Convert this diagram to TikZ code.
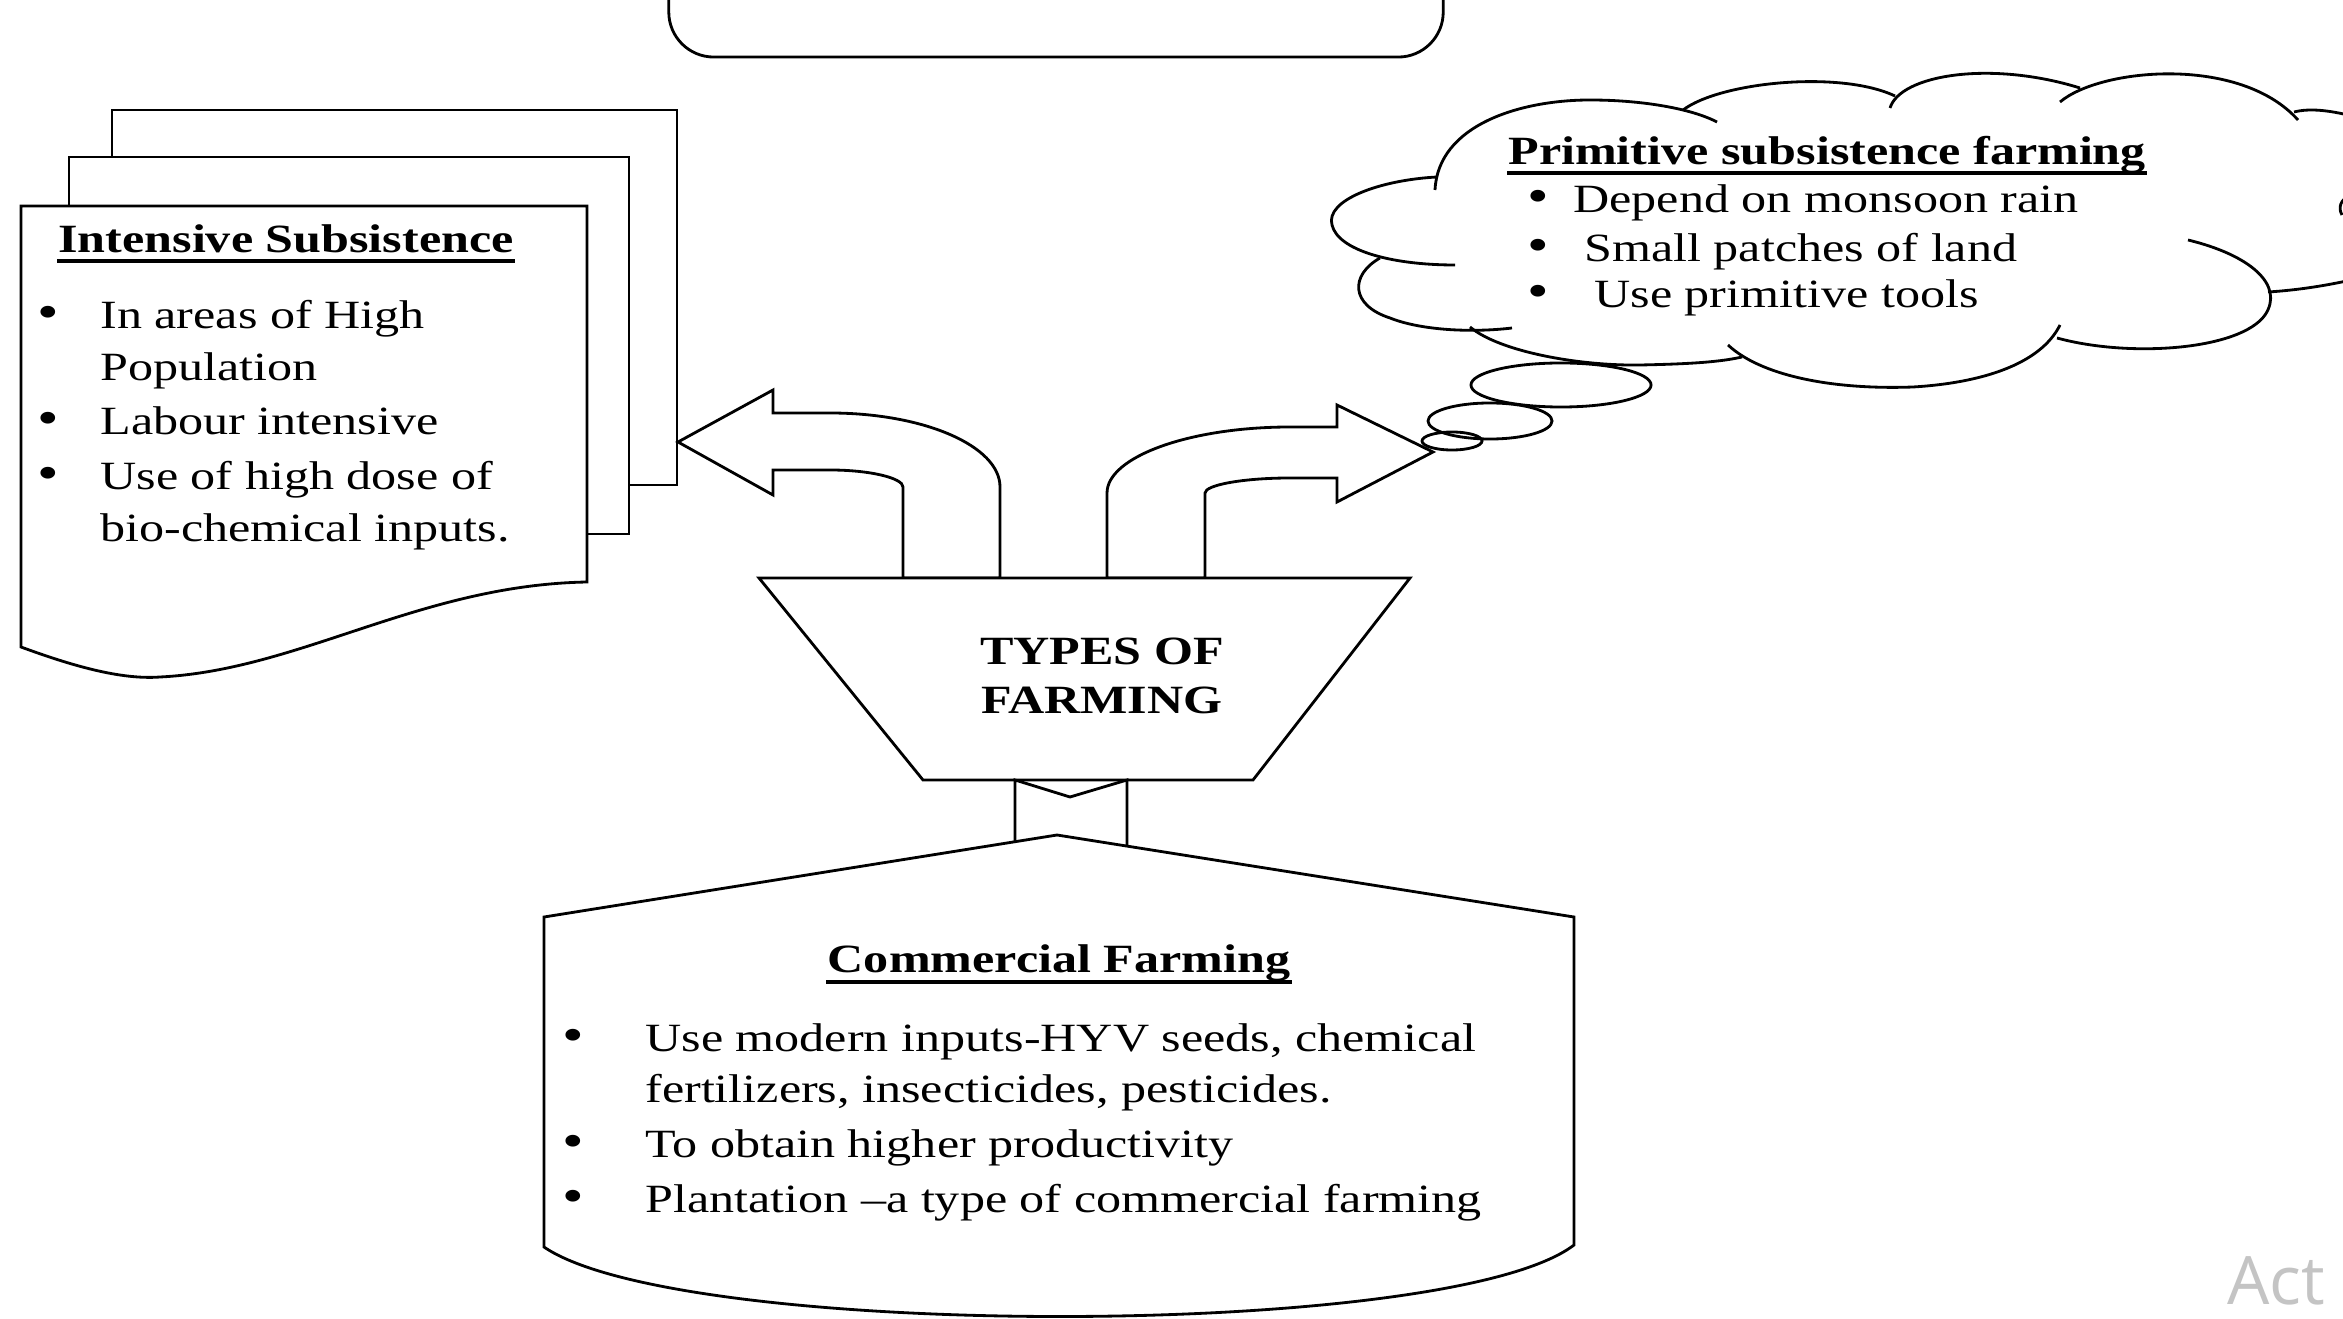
\documentclass[tikz,border=0pt]{standalone}
\usepackage{fontspec}
\setmainfont[FakeStretch=1.25]{Liberation Serif}
\newfontfamily\winfont{Open Sans}
\definecolor{WinGray}{HTML}{C4C4C4}

\begin{document}
\begin{tikzpicture}[x=0.01cm,y=-0.01cm,line width=0.8pt]
  \tikzstyle{bodytext}=[inner sep=0pt,anchor=base west,font=\fontsize{11.4}{13.9}\selectfont]
  \tikzstyle{headtext}=[bodytext,font=\fontsize{11.4}{13.9}\selectfont\bfseries]
  \tikzstyle{bulletmark}=[inner sep=0pt,anchor=base,font=\fontsize{14}{14}\selectfont]
  \tikzstyle{sheet}=[draw,fill=white]
  \tikzstyle{headrule}=[line width=1.3pt]
  \useasboundingbox (0,0) rectangle (2343,1319);
  \fill[white] (0,0) rectangle (2343,1319);
  \clip (0,0) rectangle (2343,1319);

  % box running off the top
  \node[draw,rounded corners=0.45cm,minimum width=7.74cm,minimum height=2cm] (topbox) at (1056,-43) {};

  % stack of sheets
  \draw[sheet] (112,110) rectangle (677,485);
  \draw[sheet] (69,157) rectangle (629,534);
  \draw[sheet] (21,206) -- (587,206) -- (587,582)
    .. controls (420,585) and (300,670) .. (160,677)
    .. controls (120,680) and (70,665) .. (21,647) -- cycle;
  \node[headtext] (inhead) at (57,253) {Intensive Subsistence};
  \draw[headrule] ([yshift=-2.3pt]inhead.base west) -- ([yshift=-2.3pt]inhead.base east);
  \node[bulletmark] (indot1) at (48,329) {\textbullet};
  \node[bodytext] (in1) at (99,329) {In areas of High};
  \node[bodytext] (in2) at (99,381) {Population};
  \node[bulletmark] (indot3) at (48,435) {\textbullet};
  \node[bodytext] (in3) at (99,435) {Labour intensive};
  \node[bulletmark] (indot4) at (48,490) {\textbullet};
  \node[bodytext] (in4) at (99,490) {Use of high dose of};
  \node[bodytext] (in5) at (99,542) {bio-chemical inputs.};

  % u-turn arrows
  \draw[fill=white] (678,442) -- (773,390) -- (773,413) -- (830,413)
    .. controls (924,413) and (1000,446) .. (1000,487) -- (1000,578)
    -- (903,578) -- (903,487) .. controls (903,478) and (870,470) .. (830,470)
    -- (773,470) -- (773,495) -- cycle;
  \draw[fill=white] (1433,452) -- (1337,405) -- (1337,427) -- (1290,427)
    .. controls (1189,427) and (1107,457) .. (1107,493) -- (1107,578)
    -- (1205,578) -- (1205,493) .. controls (1205,485) and (1243,478) .. (1290,478)
    -- (1337,478) -- (1337,502) -- cycle;

  % funnel
  \draw[fill=white] (759,578) -- (1410,578) -- (1253,780) -- (923,780) -- cycle;
  \node[headtext,anchor=center,align=center] (types) at (1102,676) {TYPES OF\\FARMING};

  % notched shaft into the lower box
  \draw (1015,870) -- (1015,780) -- (1070,797) -- (1127,780) -- (1127,870);

  % lower box
  \draw[fill=white] (1057,835) -- (1574,917) -- (1574,1245)
    .. controls (1450,1340) and (680,1340) .. (544,1247) -- (544,917) -- cycle;
  \node[headtext,anchor=base] (comhead) at (1059,972) {Commercial Farming};
  \draw[headrule] ([yshift=-2.8pt]comhead.base west) -- ([yshift=-2.8pt]comhead.base east);
  \node[bulletmark] (comdot1) at (573,1051) {\textbullet};
  \node[bodytext] (com1) at (644,1051) {Use modern inputs-HYV seeds, chemical};
  \node[bodytext] (com2) at (644,1102) {fertilizers, insecticides, pesticides.};
  \node[bulletmark] (comdot3) at (573,1157) {\textbullet};
  \node[bodytext] (com3) at (644,1157) {To obtain higher productivity};
  \node[bulletmark] (comdot4) at (573,1212) {\textbullet};
  \node[bodytext] (com4) at (644,1212) {Plantation --a type of commercial farming};

  % cloud, puff by puff
  \draw (1437,177) .. controls (1380,180) and (1325,200) .. (1332,225)
    .. controls (1338,250) and (1390,265) .. (1455,265);
  \draw (1380,258) .. controls (1350,275) and (1350,305) .. (1390,318)
    .. controls (1420,330) and (1470,333) .. (1512,328);
  \draw (1470,327) .. controls (1500,352) and (1580,366) .. (1640,365)
    .. controls (1690,364) and (1720,362) .. (1742,357);
  \draw (1728,345) .. controls (1760,375) and (1830,390) .. (1913,387)
    .. controls (1980,383) and (2040,365) .. (2060,325);
  \draw (2188,240) .. controls (2250,255) and (2285,285) .. (2265,315)
    .. controls (2240,350) and (2130,358) .. (2057,338);
  \draw (2268,292) .. controls (2300,290) and (2330,285) .. (2360,278);
  \draw (2350,195) .. controls (2340,200) and (2338,208) .. (2342,215);
  \draw (2294,112) .. controls (2310,108) and (2330,110) .. (2360,118);
  \draw (2060,102) .. controls (2100,68) and (2240,55) .. (2298,120);
  \draw (1890,108) .. controls (1900,75) and (1990,60) .. (2080,88);
  \draw (1683,110) .. controls (1720,82) and (1840,70) .. (1895,96);
  \draw (1435,190) .. controls (1438,125) and (1520,100) .. (1590,100)
    .. controls (1640,100) and (1690,108) .. (1717,122);
  \draw (1561,385) ellipse [x radius=0.90cm, y radius=0.22cm];
  \draw (1490,421) ellipse [x radius=0.62cm, y radius=0.18cm];
  \draw (1452,441) ellipse [x radius=0.30cm, y radius=0.09cm];
  \node[headtext] (cloudhead) at (1507,165) {Primitive subsistence farming};
  \draw[headrule] ([yshift=-2.3pt]cloudhead.base west) -- ([yshift=-2.3pt]cloudhead.base east);
  \node[bulletmark] (clouddot1) at (1538,213) {\textbullet};
  \node[bodytext] (cloud1) at (1572,213) {Depend on monsoon rain};
  \node[bulletmark] (clouddot2) at (1538,262) {\textbullet};
  \node[bodytext] (cloud2) at (1583,262) {Small patches of land};
  \node[bulletmark] (clouddot3) at (1538,308) {\textbullet};
  \node[bodytext] (cloud3) at (1593,308) {Use primitive tools};

  \node[anchor=base west,inner sep=0pt,text=WinGray,font=\winfont\fontsize{19}{19}\selectfont] (win) at (2226,1304) {Act};
\end{tikzpicture}
\end{document}
